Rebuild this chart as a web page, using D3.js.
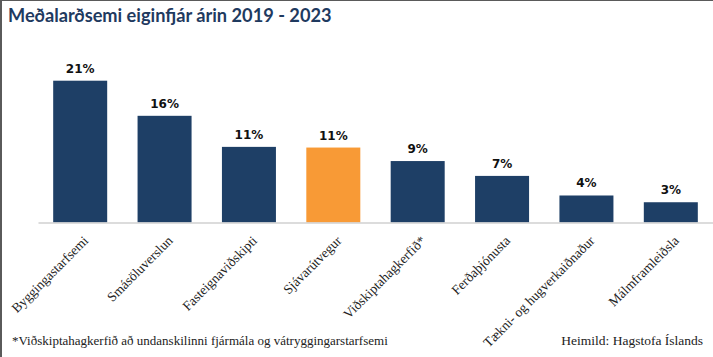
<!DOCTYPE html>
<html><head><meta charset="utf-8">
<script src="https://cdn.jsdelivr.net/npm/d3@7"></script>
<style>
html,body{margin:0;padding:0;background:#fff;}
svg{display:block;}
</style></head>
<body>
<script>
const categories = ["Byggingastarfsemi","Smásöluverslun","Fasteignaviðskipti","Sjávarútvegur","Viðskiptahagkerfið*","Ferðaþjónusta","Tækni- og hugverkaiðnaður","Málmframleiðsla"];
const values = [21.0, 15.8, 11.2, 11.1, 9.1, 6.9, 4.0, 3.0];
const labels = ["21%","16%","11%","11%","9%","7%","4%","3%"];
const highlight = "Sjávarútvegur";
const title = "Meðalarðsemi eiginfjár árin 2019 - 2023";
const footnote = "*Viðskiptahagkerfið að undanskilinni fjármála og vátryggingarstarfsemi";
const source = "Heimild: Hagstofa Íslands";

const W = 713, H = 357;
const svg = d3.select("body").append("svg").attr("width", W).attr("height", H);

// frame
svg.append("line").attr("x1",1).attr("x2",1).attr("y1",0).attr("y2",H).attr("stroke","#5a5a5a").attr("stroke-width",2);
svg.append("line").attr("x1",0).attr("x2",W).attr("y1",0.5).attr("y2",0.5).attr("stroke","#5a5a5a").attr("stroke-width",1);

svg.append("text").attr("x",8).attr("y",22)
  .attr("font-family","Lato, 'Open Sans', sans-serif").attr("font-weight","bold").attr("font-size",18.2)
  .attr("fill","#1f3a5f").text(title);

const baseY = 222.5;
const x = d3.scaleBand().domain(categories).range([38, 713]).paddingInner(0.36).paddingOuter(0.18);
const y = d3.scaleLinear().domain([0, 21]).range([baseY, 80.7]);

const g = svg.append("g");
g.selectAll("rect.bar").data(categories).join("rect")
  .attr("class","bar")
  .attr("x", d => x(d)).attr("width", x.bandwidth())
  .attr("y", (d,i) => y(values[i])).attr("height", (d,i) => baseY - y(values[i]))
  .attr("fill", d => d === highlight ? "#f89a36" : "#1e3f66");

g.selectAll("text.val").data(categories).join("text")
  .attr("class","val")
  .attr("x", d => x(d) + x.bandwidth()/2).attr("y", (d,i) => y(values[i]) - 8)
  .attr("text-anchor","middle")
  .attr("font-family","'DejaVu Sans', sans-serif").attr("font-weight","bold").attr("font-size",12)
  .attr("fill","#111").text((d,i) => labels[i]);

// axis
const axis = svg.append("g").attr("transform", `translate(0,${baseY})`)
  .call(d3.axisBottom(x).tickSize(0).tickPadding(0));
axis.select(".domain").attr("stroke","#d0d0d0").attr("stroke-width",1.5);
axis.selectAll(".tick text")
  .attr("font-family","'Liberation Serif', 'DejaVu Serif', serif").attr("font-size",13.5)
  .attr("fill","#222")
  .attr("text-anchor","end")
  .attr("dy","0")
  .attr("transform","translate(9,19) rotate(-45)");

svg.append("text").attr("x",12).attr("y",345)
  .attr("font-family","'Liberation Serif', 'DejaVu Serif', serif").attr("font-size",13)
  .attr("fill","#222").text(footnote);
svg.append("text").attr("x",703).attr("y",345).attr("text-anchor","end")
  .attr("font-family","'Liberation Serif', 'DejaVu Serif', serif").attr("font-size",13.5)
  .attr("fill","#222").text(source);
</script>
</body></html>
